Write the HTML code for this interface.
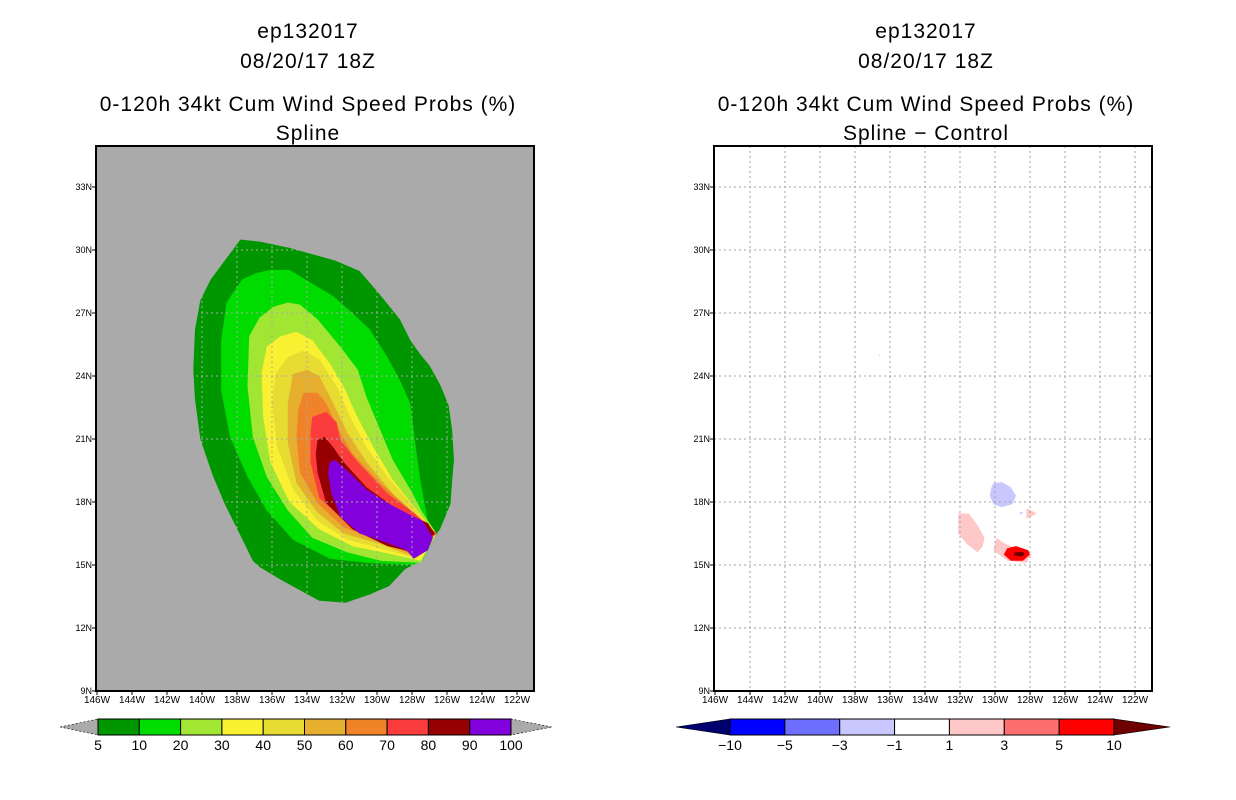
<!DOCTYPE html>
<html><head><meta charset="utf-8"><style>
body{margin:0;background:#fff;width:1236px;height:800px;overflow:hidden}
svg{display:block}
text{font-family:"Liberation Sans",sans-serif;fill:#000}
</style></head><body>
<svg id="chart" width="1236" height="800" xmlns="http://www.w3.org/2000/svg"></svg>
<script>
// ---- data ----
const lonTicks = [146,144,142,140,138,136,134,132,130,128,126,124,122];
const latTicks = [9,12,15,18,21,24,27,30,33];
const leftLevels = ["5","10","20","30","40","50","60","70","80","90","100"];
const leftColors = ["#009600","#00dc00","#a0e632","#faf032","#e6dc32","#e6af2d","#f08228","#fa3c3c","#960000","#8200dc"];
const rightLevels = ["-10","-5","-3","-1","1","3","5","10"];
const rightColors = ["#0000ff","#6e6eff","#c8c8ff","#ffffff","#ffc8c8","#ff6e6e","#ff0000"];
const rightLow = "#00006e", rightHigh = "#6e0000";
// contours (lonW, latN) for each probability level
const c5 = [[137.8,30.5],[136.7,30.4],[135.0,30.1],[132.4,29.5],[131.0,29.0],[129.9,27.95],[128.7,26.7],[128.1,25.7],[127.5,25.0],[127.0,24.5],[126.4,23.6],[125.9,22.6],[125.7,21.4],[125.6,20.0],[125.7,19.05],[125.8,17.9],[126.4,16.7],[127.0,16.0],[127.5,15.2],[128.4,14.8],[129.3,14.0],[130.4,13.6],[131.8,13.2],[133.3,13.3],[134.4,13.8],[135.5,14.3],[136.7,14.9],[137.1,15.2],[137.8,16.4],[138.7,17.9],[139.4,19.3],[140.1,21.0],[140.4,22.9],[140.5,24.3],[140.4,26.2],[140.1,27.6],[139.5,28.6],[138.7,29.5]];
const c10 = [[136.1,29.05],[135.0,29.05],[133.7,28.4],[132.5,27.8],[131.4,27.0],[130.4,26.2],[129.4,24.9],[128.7,23.8],[128.1,22.7],[127.9,21.4],[127.7,20.1],[127.5,18.9],[127.1,17.1],[126.6,16.5],[127.4,15.2],[127.9,15.0],[130.6,15.1],[132.7,15.3],[134.8,16.2],[136.3,17.6],[137.4,19.2],[138.4,21.1],[138.9,23.3],[138.9,25.7],[138.6,27.5],[137.7,28.6],[136.9,28.9]];
const c20 = [[135.1,27.5],[134.4,27.4],[133.4,26.7],[132.1,25.4],[131.1,24.3],[130.6,23.0],[129.8,21.4],[129.1,20.0],[128.1,18.6],[127.4,17.5],[126.6,16.5],[127.5,15.1],[129.8,15.2],[131.7,15.6],[133.7,16.3],[135.1,17.6],[136.3,19.2],[137.1,21.1],[137.4,23.5],[137.3,25.9],[136.7,26.8],[135.9,27.3]];
const c30 = [[135.5,25.9],[134.6,26.1],[133.7,25.7],[132.7,24.6],[131.9,23.5],[131.1,22.0],[130.2,20.6],[129.1,19.05],[127.9,17.8],[126.6,16.5],[127.5,15.2],[129.1,15.5],[131.4,15.9],[133.3,16.7],[135.0,18.0],[136.1,19.9],[136.5,22.0],[136.6,24.1],[136.3,25.4]];
const c40 = [[135.1,24.9],[134.2,25.2],[133.3,24.8],[132.3,23.5],[131.5,22.0],[130.6,20.6],[129.4,19.2],[128.1,17.95],[126.6,16.5],[127.7,15.3],[129.4,15.7],[131.7,16.2],[133.4,17.1],[134.8,18.6],[135.7,20.6],[136.0,22.7],[135.8,24.1]];
const c50 = [[134.8,24.1],[134.0,24.3],[133.3,24.0],[132.5,22.7],[131.7,21.3],[130.6,19.9],[129.1,18.4],[126.6,16.5],[127.9,15.4],[129.8,16.0],[131.9,16.5],[133.4,17.5],[134.6,18.9],[135.1,20.8],[135.1,22.7]];
const c60 = [[134.2,23.2],[133.4,23.2],[132.9,22.7],[132.3,21.6],[131.4,20.3],[129.8,18.9],[128.1,17.6],[126.6,16.5],[127.9,15.5],[129.8,16.1],[131.9,16.8],[133.4,17.95],[134.4,19.4],[134.6,21.1],[134.5,22.4]];
const c70 = [[133.7,22.05],[132.9,22.3],[132.3,21.8],[132.1,20.95],[131.1,19.9],[129.4,18.4],[127.9,17.5],[126.6,16.5],[127.9,15.5],[129.8,16.2],[131.7,17.0],[133.3,18.2],[133.8,19.9],[133.8,21.3]];
const c80 = [[133.4,20.95],[133.0,21.1],[132.5,20.6],[131.9,19.9],[130.6,18.7],[129.1,17.8],[127.9,17.3],[127.1,17.0],[126.7,16.5],[127.9,15.6],[129.4,15.9],[131.4,16.7],[132.9,17.95],[133.4,19.4],[133.5,20.3]];
const c90 = [[132.7,19.9],[132.4,20.0],[131.7,19.5],[130.6,18.6],[129.4,17.95],[127.9,17.3],[127.4,17.1],[126.8,16.3],[127.1,15.7],[127.9,15.3],[128.3,15.7],[129.4,16.05],[131.0,16.5],[132.1,17.3],[132.6,18.4],[132.8,19.4]];
const leftContours = [c5,c10,c20,c30,c40,c50,c60,c70,c80,c90];
// difference blobs (lonW, latN) with colour-class index
const dBlue = [[130.1,18.9],[129.6,18.95],[129.1,18.7],[128.8,18.3],[129.0,17.9],[129.6,17.75],[130.1,17.9],[130.3,18.3],[130.2,18.7]];
const dPinkA = [[132.1,17.45],[131.5,17.45],[131.0,16.9],[130.6,16.3],[130.7,15.9],[131.0,15.6],[131.6,16.0],[132.1,16.5]];
const dDot = [[128.55,17.55],[128.4,17.5],[128.5,17.4],[128.6,17.48]];
const dPinkB = [[128.2,17.7],[127.6,17.45],[128.2,17.2]];
const dPinkC = [[129.9,16.3],[129.5,16.05],[128.7,15.75],[127.9,15.5],[128.2,15.1],[129.3,15.2],[130.1,15.7]];
const dRed = [[129.3,15.8],[128.8,15.9],[128.1,15.7],[128.0,15.5],[128.4,15.2],[129.1,15.2],[129.5,15.5]];
const dDark = [[128.9,15.6],[128.4,15.62],[128.3,15.5],[128.5,15.4],[128.9,15.45]];
const dPinkD = [[136.6,25.05],[136.55,24.95],[136.65,24.95]];
const diffShapes = [dBlue,dPinkA,dDot,dPinkB,dPinkC,dRed,dDark,dPinkD];
const diffClass = [3,5,3,5,5,7,8,5];

// ---- drawing ----
const NS="http://www.w3.org/2000/svg";
const svg=document.getElementById('chart');
function mk(tag,attrs,parent){const e=document.createElementNS(NS,tag);for(const k in attrs)e.setAttribute(k,attrs[k]);(parent||svg).appendChild(e);return e;}
const W=438,H=545,T=146;
function panel(x0,name){
  const xs=lw=>x0+1+(146-lw)*17.5;
  const ys=la=>T+H-(la-9)*21;
  return {xs,ys,x0,name};
}
function pts(poly,p){return poly.map(q=>p.xs(q[0]).toFixed(1)+','+p.ys(q[1]).toFixed(1)).join(' ');}
function titles(cx,sub,pfx){
  const lines=[["ep132017",38],["08/20/17 18Z",68],["0-120h 34kt Cum Wind Speed Probs (%)",111],[sub,140]];
  lines.forEach((l,i)=>{const t=mk('text',{x:cx,y:l[1],'text-anchor':'middle','font-size':'21','letter-spacing':'1'});t.textContent=l[0];
  
  });
}
function axes(p,gridColor,pfx){
  const g=mk('g',{});
  
  
  lonTicks.forEach(l=>{if(l<146)mk('line',{x1:p.xs(l),x2:p.xs(l),y1:T,y2:T+H,stroke:gridColor,'stroke-dasharray':'2,3'},g);});
  latTicks.forEach(l=>{if(l>9)mk('line',{x1:p.x0,x2:p.x0+W,y1:p.ys(l),y2:p.ys(l),stroke:gridColor,'stroke-dasharray':'2,3'},g);});
  const fr=mk('rect',{x:p.x0,y:T,width:W,height:H,fill:'none',stroke:'#000','stroke-width':2});
  
  
  latTicks.forEach(l=>{mk('line',{x1:p.x0-4,x2:p.x0,y1:p.ys(l),y2:p.ys(l),stroke:'#000'});
    const t=mk('text',{x:p.x0-4,y:p.ys(l)+3,'text-anchor':'end','font-size':'9'});t.textContent=l+'N';
    
    });
  lonTicks.forEach(l=>{mk('line',{x1:p.xs(l),x2:p.xs(l),y1:T+H,y2:T+H+4,stroke:'#000'});
    const t=mk('text',{x:p.xs(l),y:T+H+12,'text-anchor':'middle','font-size':'10'});t.textContent=l+'W';
    
    });
}
function colorbar(xl,xb0,xb1,xr,colors,labels,lowC,highC,pfx){
  const y0=719,y1=735,ym=727;
  const g=mk('g',{});
  
  
  mk('polygon',{points:`${xl},${ym} ${xb0},${y0} ${xb0},${y1}`,fill:lowC,stroke:'#000','stroke-width':0.6,'stroke-dasharray':lowC=='#aaaaaa'?'2,2':''},g);
  mk('polygon',{points:`${xr},${ym} ${xb1},${y0} ${xb1},${y1}`,fill:highC,stroke:'#000','stroke-width':0.6,'stroke-dasharray':highC=='#aaaaaa'?'2,2':''},g);
  const bw=(xb1-xb0)/colors.length;
  colors.forEach((c,i)=>{const r=mk('rect',{x:xb0+i*bw,y:y0,width:bw,height:y1-y0,fill:c,stroke:'#000','stroke-width':1},g);
    
    });
  labels.forEach((l,i)=>{const t=mk('text',{x:xb0+i*bw,y:750,'text-anchor':'middle','font-size':'14'},g);t.textContent=l.replace('-','\u2212');
    
    });
}
// left panel
const pL=panel(96,'left');
titles(308,'Spline','left');
const bgL=mk('rect',{x:96,y:T,width:W,height:H,fill:'#aaaaaa'});


leftContours.forEach((c,i)=>{const e=mk('polygon',{points:pts(c,pL),fill:leftColors[i]});
  
  });
axes(pL,'#aaaaaa','left');
colorbar(60,98,511,552,leftColors,leftLevels,'#aaaaaa','#aaaaaa','left');
// right panel
const pR=panel(714,'right');
titles(926,'Spline \u2212 Control','right');
const bgR=mk('rect',{x:714,y:T,width:W,height:H,fill:'#ffffff'});


const allR=[rightLow].concat(rightColors).concat([rightHigh]);
diffShapes.forEach((s,i)=>{const e=mk('polygon',{points:pts(s,pR),fill:allR[diffClass[i]]});
  
  });
axes(pR,'#a0a0a0','right');
colorbar(676,730,1114,1170,rightColors,rightLevels,rightLow,rightHigh,'right');
</script>
</body></html>
